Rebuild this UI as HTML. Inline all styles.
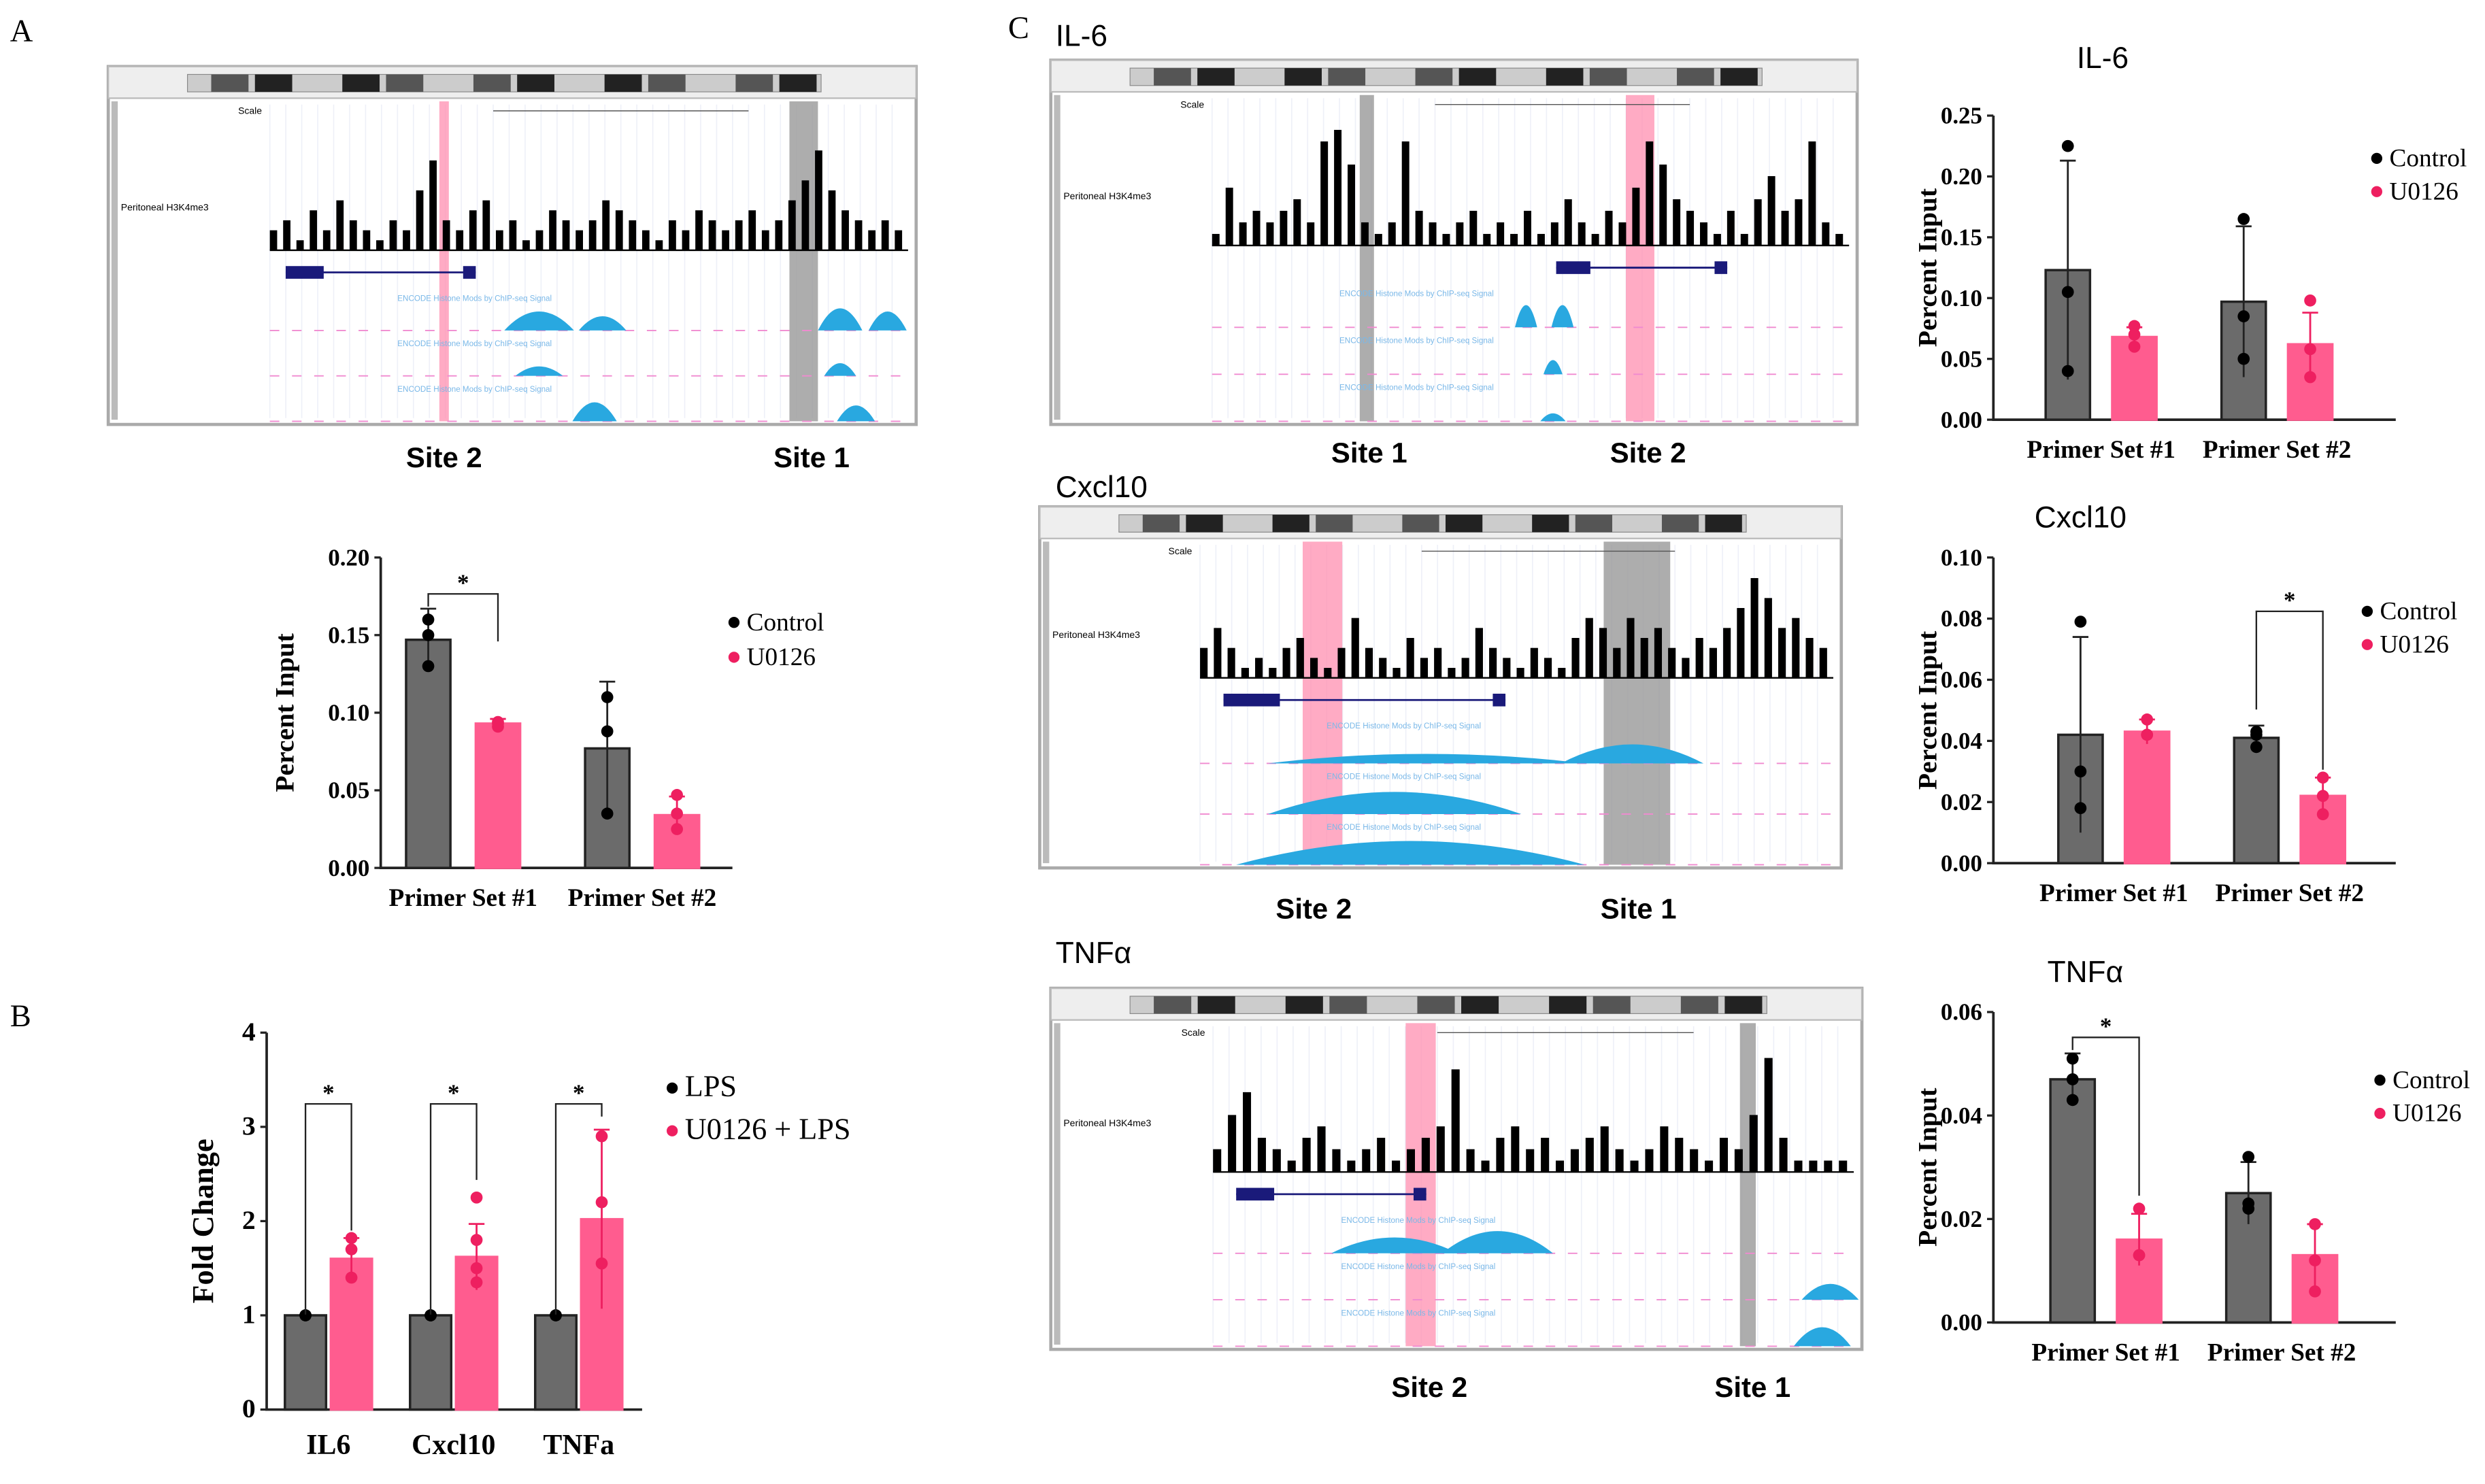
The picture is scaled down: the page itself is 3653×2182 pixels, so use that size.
<!DOCTYPE html>
<html><head><meta charset="utf-8"><style>
html,body{margin:0;padding:0;background:#fff;}
svg{display:block;}
.ser{font-family:"Liberation Serif",serif;}
.san{font-family:"Liberation Sans",sans-serif;}
</style></head><body>
<svg id="fig" width="3653" height="2182" viewBox="0 0 1568 937" xmlns="http://www.w3.org/2000/svg">
<g id="static">
<text x="6" y="26" class="ser" font-size="20">A</text>
<text x="6" y="648" class="ser" font-size="20">B</text>
<text x="636" y="24" class="ser" font-size="20">C</text>
<text x="666" y="29" class="san" font-size="19">IL-6</text>
<text x="666" y="314" class="san" font-size="19">Cxcl10</text>
<text x="666" y="608" class="san" font-size="19">TNFα</text>
</g>
<g id="browsers"></g>
<g id="charts"></g>
</svg>
<script>
// ===== Chart data =====
const groupsPS = ["Primer Set #1","Primer Set #2"];
const seriesNames = ["Control","U0126"];
// Panel A
const aCtrlMean=[0.147,0.077], aCtrlSd=[0.020,0.043], aUMean=[0.093,0.034], aUSd=[0.003,0.012];
const aCtrlPts=[[0.160,0.150,0.130],[0.110,0.088,0.035]], aUPts=[[0.094,0.093,0.091],[0.047,0.035,0.025]];
const aTicks=[0,0.05,0.10,0.15,0.20];
// Panel B
const bCats=["IL6","Cxcl10","TNFa"];
const bLpsMean=[1,1,1], bLpsSd=[0,0,0], bUMean=[1.60,1.62,2.02], bUSd=[0.22,0.35,0.95];
const bLpsPts=[[1,1,1],[1,1,1,1],[1,1,1]], bUPts=[[1.82,1.70,1.40],[2.25,1.80,1.50,1.35],[2.90,2.20,1.55]];
const bTicks=[0,1,2,3,4];
// IL-6
const iCtrlMean=[0.123,0.097], iCtrlSd=[0.090,0.062], iUMean=[0.068,0.062], iUSd=[0.008,0.026];
const iCtrlPts=[[0.225,0.105,0.040],[0.165,0.085,0.050]], iUPts=[[0.077,0.070,0.060],[0.098,0.058,0.035]];
const iTicks=[0,0.05,0.10,0.15,0.20,0.25];
// Cxcl10
const cCtrlMean=[0.042,0.041], cCtrlSd=[0.032,0.004], cUMean=[0.043,0.022], cUSd=[0.004,0.006];
const cCtrlPts=[[0.079,0.030,0.018],[0.043,0.042,0.038]], cUPts=[[0.047,0.042,0.042],[0.028,0.022,0.016]];
const cTicks=[0,0.02,0.04,0.06,0.08,0.10];
// TNF
const tCtrlMean=[0.047,0.025], tCtrlSd=[0.005,0.006], tUMean=[0.016,0.013], tUSd=[0.005,0.006];
const tCtrlPts=[[0.051,0.047,0.043],[0.032,0.023,0.022]], tUPts=[[0.022,0.013,0.013],[0.019,0.012,0.006]];
const tTicks=[0,0.02,0.04,0.06];
// Genome browser histogram heights (0-1)
const histA=[.2,.3,.1,.4,.2,.5,.3,.2,.1,.3,.2,.6,.9,.3,.2,.4,.5,.2,.3,.1,.2,.4,.3,.2,.3,.5,.4,.3,.2,.1,.3,.2,.4,.3,.2,.3,.4,.2,.3,.5,.7,1,.6,.4,.3,.2,.3,.2];
const histI=[.1,.5,.2,.3,.2,.3,.4,.2,.9,1,.7,.2,.1,.2,.9,.3,.2,.1,.2,.3,.1,.2,.1,.3,.1,.2,.4,.2,.1,.3,.2,.5,.9,.7,.4,.3,.2,.1,.3,.1,.4,.6,.3,.4,.9,.2,.1];
const histC=[.3,.5,.3,.1,.2,.1,.3,.4,.2,.1,.3,.6,.3,.2,.1,.4,.2,.3,.1,.2,.5,.3,.2,.1,.3,.2,.1,.4,.6,.5,.3,.6,.4,.5,.3,.2,.4,.3,.5,.7,1,.8,.5,.6,.4,.3];
const histT=[.2,.5,.7,.3,.2,.1,.3,.4,.2,.1,.2,.3,.1,.2,.3,.4,.9,.2,.1,.3,.4,.2,.3,.1,.2,.3,.4,.2,.1,.2,.4,.3,.2,.1,.3,.2,.5,1,.3,.1,.1,.1,.1];

const NS="http://www.w3.org/2000/svg";
function mk(tag,attrs,parent){const e=document.createElementNS(NS,tag);for(const k in attrs)e.setAttribute(k,attrs[k]);parent.appendChild(e);return e;}
const GRAY="#6b6b6b", PINK="#ff5c8f", PINKD="#ee1f60";

function drawChart(c){
  const g=mk('g',{},document.getElementById('charts'));
  
  
  const y=v=>c.y0-(v/c.ymax)*(c.y0-c.y1);
  const ax=mk('path',{d:`M${c.xl} ${c.y1} V${c.y0} H${c.xr}`,stroke:'#222','stroke-width':1.6,fill:'none'},g);
  
  
  c.ticks.forEach(t=>{
    mk('line',{x1:c.xl-4,x2:c.xl,y1:y(t),y2:y(t),stroke:'#222','stroke-width':1.4},g);
    const tx=mk('text',{x:c.xl-7,y:y(t)+5,'text-anchor':'end','font-size':c.tfs||15,'font-weight':'bold',class:'ser'},g);
    tx.textContent=c.fmt(t);
    
    
  });
  const yt=mk('text',{x:0,y:0,transform:`translate(${c.ytx},${(c.y0+c.y1)/2}) rotate(-90)`,'text-anchor':'middle','font-size':c.ytfs||17,'font-weight':'bold',class:'ser'},g);
  yt.textContent=c.ytitle;
  
  
  const series=[[c.m1,c.s1,c.p1,GRAY,'#000'],[c.m2,c.s2,c.p2,PINK,PINKD]];
  c.cats.forEach((cat,i)=>{
    series.forEach((s,k)=>{
      const cx=c.gx[i]+(k?c.off:-c.off);
      const top=y(s[0][i]);
      const b=mk('rect',{x:cx-c.bw/2,y:top,width:c.bw,height:c.y0-top,fill:s[3],stroke:k?PINK:'#222','stroke-width':1.5},g);
      
      
      const hi=y(s[0][i]+s[1][i]), lo=y(Math.max(0,s[0][i]-s[1][i]));
      const col=k?PINKD:'#222';
      mk('line',{x1:cx,x2:cx,y1:hi,y2:lo,stroke:col,'stroke-width':1.2},g);
      mk('line',{x1:cx-5,x2:cx+5,y1:hi,y2:hi,stroke:col,'stroke-width':1.2},g);
      s[2][i].forEach(v=>{
        const d=mk('circle',{cx:cx,cy:y(v),r:3.8,fill:s[4]},g);
        
        
      });
    });
    const xl=mk('text',{x:c.gx[i],y:c.y0+c.xlo,'text-anchor':'middle','font-size':c.xfs||16,'font-weight':'bold',class:'ser'},g);
    xl.textContent=cat;
    
    
  });
  (c.sig||[]).forEach(si=>{
    const x1=c.gx[si.i]+(si.a? c.off:-c.off), x2=c.gx[si.j]+(si.b? c.off:-c.off);
    const yy=si.y;
    mk('path',{d:`M${x1} ${yy+ (si.d1||10)} V${yy} H${x2} V${yy+(si.d2||10)}`,stroke:'#222','stroke-width':1,fill:'none'},g);
    const st=mk('text',{x:(x1+x2)/2,y:yy-2,'text-anchor':'middle','font-size':15,'font-weight':'bold',class:'ser'},g);
    st.textContent='*';
    
    
  });
  c.legend.forEach((L,k)=>{
    mk('circle',{cx:c.lx,cy:c.ly+k*c.lgap-5,r:3.5,fill:k?PINKD:'#000'},g);
    const t=mk('text',{x:c.lx+8,y:c.ly+k*c.lgap,'font-size':c.lfs||16,class:'ser'},g);
    t.textContent=L;
    
    
  });
  if(c.title){
    const t=mk('text',{x:c.tx,y:c.ty,'text-anchor':'middle','font-size':19,class:'san'},g);
    t.textContent=c.title;
    
    
  }
}
const f2=v=>v.toFixed(2), f0=v=>v.toFixed(0);
drawChart({name:'chart-a',xl:240,xr:462,y0:548,y1:352,ymax:0.20,ticks:aTicks,fmt:f2,ytx:185,ytitle:'Percent Input',
  cats:groupsPS,gx:[292,405],off:22,bw:28,xlo:24,m1:aCtrlMean,s1:aCtrlSd,p1:aCtrlPts,m2:aUMean,s2:aUSd,p2:aUPts,
  sig:[{i:0,j:0,a:0,b:1,y:375,d1:8,d2:30}],legend:seriesNames,lx:463,ly:398,lgap:22});
drawChart({name:'chart-b',xl:168,xr:405,y0:890,y1:652,ymax:4,ticks:bTicks,fmt:f0,ytx:134,ytitle:'Fold Change',ytfs:19,tfs:17,xfs:18,
  cats:bCats,gx:[207,286,365],off:14.5,bw:26,xlo:28,m1:bLpsMean,s1:bLpsSd,p1:bLpsPts,m2:bUMean,s2:bUSd,p2:bUPts,
  sig:[{i:0,j:0,a:0,b:1,y:697,d1:133,d2:80},{i:1,j:1,a:0,b:1,y:697,d1:133,d2:48},{i:2,j:2,a:0,b:1,y:697,d1:133,d2:8}],
  legend:["LPS","U0126 + LPS"],lx:424,ly:692,lgap:27,lfs:19});
drawChart({name:'chart-il6',xl:1258,xr:1512,y0:265,y1:73,ymax:0.25,ticks:iTicks,fmt:f2,ytx:1222,ytitle:'Percent Input',
  cats:groupsPS,gx:[1326,1437],off:21,bw:28,xlo:24,m1:iCtrlMean,s1:iCtrlSd,p1:iCtrlPts,m2:iUMean,s2:iUSd,p2:iUPts,
  legend:seriesNames,lx:1500,ly:105,lgap:21,title:'IL-6',tx:1327,ty:43});
drawChart({name:'chart-cxcl10',xl:1258,xr:1512,y0:545,y1:352,ymax:0.10,ticks:cTicks,fmt:f2,ytx:1222,ytitle:'Percent Input',
  cats:groupsPS,gx:[1334,1445],off:21,bw:28,xlo:24,m1:cCtrlMean,s1:cCtrlSd,p1:cCtrlPts,m2:cUMean,s2:cUSd,p2:cUPts,
  sig:[{i:1,j:1,a:0,b:1,y:386,d1:62,d2:100}],legend:seriesNames,lx:1494,ly:391,lgap:21,title:'Cxcl10',tx:1313,ty:333});
drawChart({name:'chart-tnf',xl:1258,xr:1512,y0:835,y1:639,ymax:0.06,ticks:tTicks,fmt:f2,ytx:1222,ytitle:'Percent Input',
  cats:groupsPS,gx:[1329,1440],off:21,bw:28,xlo:24,m1:tCtrlMean,s1:tCtrlSd,p1:tCtrlPts,m2:tUMean,s2:tUSd,p2:tUPts,
  sig:[{i:0,j:0,a:0,b:1,y:655,d1:8,d2:100}],legend:seriesNames,lx:1502,ly:687,lgap:21,title:'TNFα',tx:1316,ty:620});

// ===== Genome browsers =====
function browser(b){
  const g=mk('g',{},document.getElementById('browsers'));
  
  
  const w=b.x1-b.x0,h=b.y1-b.y0;
  mk('rect',{x:b.x0,y:b.y0,width:w,height:h,fill:'#fff',stroke:'#aaa','stroke-width':2},g);
  mk('rect',{x:b.x0,y:b.y0,width:w,height:20,fill:'#eee',stroke:'#bbb'},g);
  const ix=b.x0+50, iw=w-110;
  mk('rect',{x:ix,y:b.y0+5,width:iw,height:11,fill:'#ccc',stroke:'#888','stroke-width':.5},g);
  for(let k=0;k<14;k++){ if(k%3!==2) mk('rect',{x:ix+15+k*iw/14.5,y:b.y0+5,width:iw/17,height:11,fill:k%2?'#222':'#555'},g);}
  mk('line',{x1:b.x0+4,x2:b.x0+4,y1:b.y0+22,y2:b.y1-3,stroke:'#bbb','stroke-width':4},g);
  const dx0=b.x0+w*0.2, dw=w*0.79;
  for(let k=0;k<40;k++) mk('line',{x1:dx0+k*dw/40,x2:dx0+k*dw/40,y1:b.y0+24,y2:b.y1-4,stroke:'#eef0f8','stroke-width':.7},g);
  mk('rect',{x:b.px0,y:b.y0+22,width:b.px1-b.px0,height:h-24,fill:'#ff8fb0',opacity:.75},g);
  mk('rect',{x:b.gx0,y:b.y0+22,width:b.gx1-b.gx0,height:h-24,fill:'#999',opacity:.8},g);
  const sc=mk('text',{x:dx0-20,y:b.y0+30,'font-size':6,class:'san'},g); sc.textContent='Scale';
  mk('line',{x1:dx0+dw*0.35,x2:dx0+dw*0.75,y1:b.y0+28,y2:b.y0+28,stroke:'#555','stroke-width':.6},g);
  const lb=mk('text',{x:b.x0+8,y:b.hy0+(b.hy1-b.hy0)*0.6,'font-size':6,class:'san'},g); lb.textContent='Peritoneal H3K4me3';
  const hist=b.hist, bwid=dw/hist.length;
  hist.forEach((v,k)=>{
    const bb=mk('rect',{x:dx0+k*bwid,y:b.hy1-v*(b.hy1-b.hy0),width:bwid*0.55,height:v*(b.hy1-b.hy0),fill:'#000'},g);
    
    
  });
  mk('line',{x1:dx0,x2:dx0+dw,y1:b.hy1,y2:b.hy1,stroke:'#000','stroke-width':1},g);
  const gy=b.hy1+14;
  mk('line',{x1:b.gs0,x2:b.gs1,y1:gy,y2:gy,stroke:'#1a1a7a','stroke-width':1.2},g);
  mk('rect',{x:b.gs0,y:gy-4,width:(b.gs1-b.gs0)*0.2,height:8,fill:'#1a1a7a'},g);
  mk('rect',{x:b.gs1-8,y:gy-4,width:8,height:8,fill:'#1a1a7a'},g);
  const tr=(b.y1-gy-10)/3;
  for(let t=0;t<3;t++){
    const by=gy+12+tr*(t+1)-4;
    mk('line',{x1:dx0,x2:dx0+dw,y1:by,y2:by,stroke:'#f08ad0','stroke-width':.8,'stroke-dasharray':'6 8'},g);
    b.peaks[t].forEach(p=>{
      mk('path',{d:`M${p[0]-p[2]} ${by} Q${p[0]} ${by-p[1]*2} ${p[0]+p[2]} ${by} Z`,fill:'#29a8e0'},g);
    });
    const tt=mk('text',{x:dx0+dw*0.2,y:by-tr+10,'font-size':5,fill:'#7ab8e8',class:'san'},g);
    tt.textContent='ENCODE Histone Mods by ChIP-seq Signal';
  }
}
browser({name:'browser-a',x0:68,y0:42,x1:578,y1:268,px0:277,px1:283,gx0:498,gx1:516,hy0:95,hy1:158,hist:histA,gs0:180,gs1:300,
  peaks:[[[340,12,22],[380,9,15],[530,14,14],[560,12,12]],[[340,6,15],[530,8,10]],[[375,12,14],[540,10,12]]]});
browser({name:'browser-il6',x0:663,y0:38,x1:1172,y1:268,px0:1026,px1:1044,gx0:858,gx1:867,hy0:82,hy1:155,hist:histI,gs0:982,gs1:1090,
  peaks:[[[963,14,7],[986,14,7]],[[980,9,6]],[[980,5,8]]]});
browser({name:'browser-cxcl10',x0:656,y0:320,x1:1162,y1:548,px0:822,px1:847,gx0:1012,gx1:1054,hy0:365,hy1:428,hist:histC,gs0:772,gs1:950,
  peaks:[[[900,6,100],[1030,12,45]],[[880,14,80]],[[890,15,110]]]});
browser({name:'browser-tnf',x0:663,y0:624,x1:1175,y1:852,px0:887,px1:906,gx0:1098,gx1:1108,hy0:668,hy1:740,hist:histT,gs0:780,gs1:900,
  peaks:[[[880,10,40],[945,14,35]],[[1155,10,18]],[[1150,12,18]]]});

// Site labels
const siteTexts=[["Site 2",280,295],["Site 1",512,295],["Site 1",864,292],["Site 2",1040,292],["Site 2",829,580],["Site 1",1034,580],["Site 2",902,882],["Site 1",1106,882]];
siteTexts.forEach(s=>{
  const t=mk('text',{x:s[1],y:s[2],'text-anchor':'middle','font-size':18,'font-weight':'bold',class:'san'},document.getElementById('browsers'));
  t.textContent=s[0];
  
  
});
</script>
</body></html>
